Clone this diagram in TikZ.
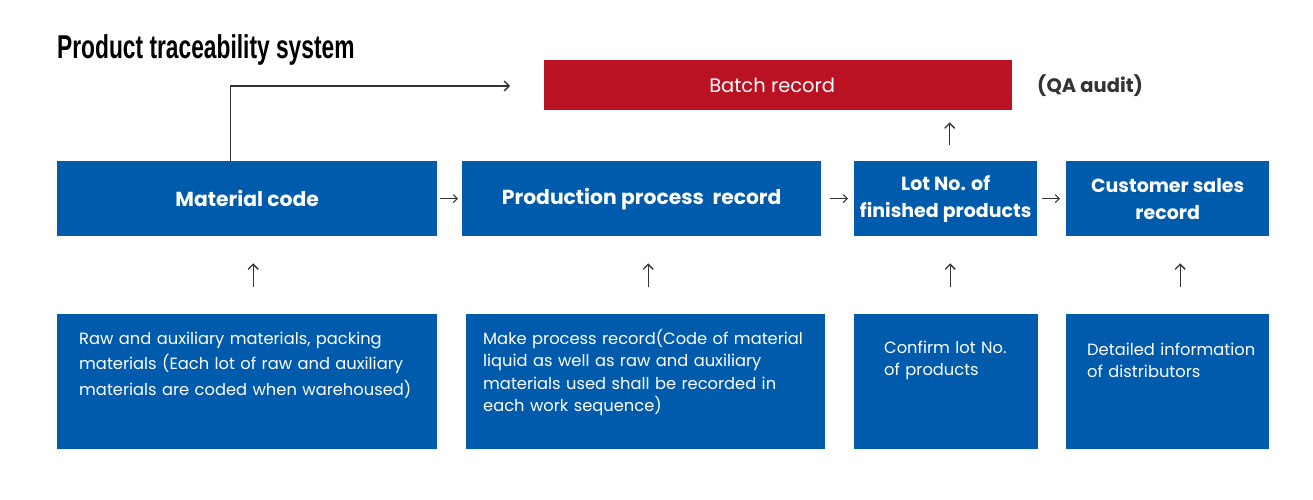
\documentclass[tikz,border=0pt]{standalone}
\usepackage{fontspec}
\setmainfont{Poppins}
\newfontfamily\titlefont[FakeStretch=0.69]{Liberation Sans}
\usetikzlibrary{arrows.meta}
\definecolor{boxblue}{HTML}{005BAC}
\definecolor{batchred}{HTML}{BA1222}
\definecolor{linegray}{HTML}{333333}
\begin{document}
\begin{tikzpicture}[x=1pt,y=-1pt,
  box/.style={fill=boxblue, draw=none, anchor=north west, inner sep=0pt, text=white, align=center},
  headtxt/.style={font=\bfseries\fontsize{20.3}{27}\selectfont},
  headsm/.style={font=\bfseries\fontsize{19}{27}\selectfont},
  bodytxt/.style={text=white, anchor=base west, inner sep=0pt, align=left, font=\fontsize{16.3}{25.5}\selectfont},
  arr/.style={draw=linegray, line width=1.3pt, -{Straight Barb[length=5pt,width=10pt]}},
  sarr/.style={draw=linegray, line width=1.1pt, -{Straight Barb[length=4pt,width=8pt]}}
]
\useasboundingbox (0,0) rectangle (1313,500);

% title
\node[anchor=base west, inner sep=0pt, font=\titlefont\bfseries\fontsize{33}{36}\selectfont] (title) at (57,59) {Product traceability system};

% batch record
\node[box, fill=batchred, minimum width=468pt, minimum height=50pt, font=\fontsize{19.5}{22}\selectfont] (batch) at (544,60) {\hspace*{-12pt}Batch record};
\node[anchor=west, inner sep=0pt, text=linegray, font=\bfseries\fontsize{19.5}{22}\selectfont] (qa) at (1037,86) {(QA audit)};

% top row
\node[box, headtxt, minimum width=380pt, minimum height=75pt] (mat) at (57,161) {Material code};
\node[box, headtxt, minimum width=359pt, minimum height=75pt] (prod) at (462,161) {Production process\ \ record};
\node[box, headsm, minimum width=183pt, minimum height=75pt] (lot) at (854,161) {Lot No. of\\finished products};
\node[box, headsm, minimum width=203pt, minimum height=75pt] (cust) at (1066,161) {Customer sales\\record};

% bottom row
\node[box, minimum width=380pt, minimum height=135pt] (raw) at (57,314) {};
\node[box, minimum width=359pt, minimum height=135pt] (make) at (466,314) {};
\node[box, minimum width=184pt, minimum height=135pt] (conf) at (854,314) {};
\node[box, minimum width=203pt, minimum height=135pt] (det) at (1066,314) {};

\node[bodytxt, text width=350pt] (rawt) at (79,344) {Raw and auxiliary materials, packing\\materials (Each lot of raw and auxiliary\\materials are coded when warehoused)};
\node[bodytxt, text width=340pt, font=\fontsize{16.3}{22.5}\selectfont] (maket) at (483,344) {Make process record(Code of material\\liquid as well as raw and auxiliary\\materials used shall be recorded in\\each work sequence)};
\node[bodytxt, text width=150pt, font=\fontsize{16.3}{22}\selectfont] (conft) at (884,353) {Confirm lot No.\\of products};
\node[bodytxt, text width=180pt, font=\fontsize{16.3}{22}\selectfont] (dett) at (1087,355) {Detailed information\\of distributors};

% connectors
\coordinate (elb) at (510,86);
\draw[arr] ([xshift=-17pt]mat.north) |- (elb);
\draw[arr, shorten <=16pt, shorten >=12pt] ([xshift=4pt]lot.north) -- ([xshift=4pt]lot.north |- batch.south);

\draw[sarr, shorten <=3pt, shorten >=4pt] (mat.east) -- (prod.west);
\draw[sarr, shorten <=9pt, shorten >=6pt] (prod.east) -- (lot.west);
\draw[sarr, shorten <=5pt, shorten >=6pt] (lot.east) -- (cust.west);

\draw[arr, shorten <=27pt, shorten >=27pt] ([xshift=6pt]raw.north) -- ([xshift=6pt]raw.north |- mat.south);
\draw[arr, shorten <=27pt, shorten >=27pt] ([xshift=2.5pt]make.north) -- ([xshift=2.5pt]make.north |- prod.south);
\draw[arr, shorten <=27pt, shorten >=27pt] ([xshift=4pt]conf.north) -- ([xshift=4pt]conf.north |- lot.south);
\draw[arr, shorten <=27pt, shorten >=27pt] ([xshift=12.5pt]det.north) -- ([xshift=12.5pt]det.north |- cust.south);
\end{tikzpicture}
\end{document}
